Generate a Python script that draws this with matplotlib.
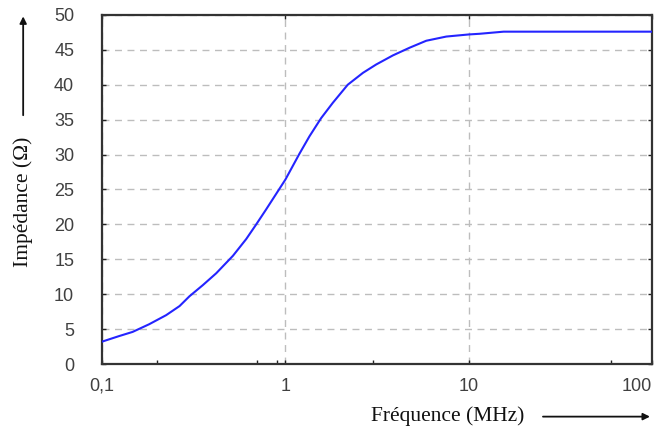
import matplotlib
matplotlib.use("Agg")
import matplotlib.pyplot as plt
from matplotlib.patches import FancyArrowPatch
from matplotlib.ticker import FixedLocator, NullFormatter

# Data
freq_mhz = [0.1, 0.124, 0.147, 0.181, 0.224, 0.265, 0.3, 0.355, 0.42, 0.518,
            0.612, 0.694, 0.784, 1.0, 1.193, 1.353, 1.566, 1.814, 2.19, 2.65,
            3.13, 3.86, 4.76, 5.87, 7.55, 10, 11.5, 15.5, 25, 50, 100]
impedance = [3.2, 4.0, 4.6, 5.7, 7.0, 8.3, 9.7, 11.3, 13.0, 15.5,
             17.9, 20.0, 22.1, 26.4, 30.1, 32.6, 35.2, 37.4, 40.0, 41.7,
             42.9, 44.2, 45.3, 46.3, 46.9, 47.2, 47.3, 47.6, 47.6, 47.6, 47.6]

x_ticks = [0.1, 1, 10, 100]
x_tick_labels = ["0,1", "1", "10", "100"]
x_minor = [0.2, 0.7, 0.9, 3, 60]
y_ticks = [0, 5, 10, 15, 20, 25, 30, 35, 40, 45, 50]

fig = plt.figure(figsize=(6.62, 4.26), dpi=100)
ax = fig.add_axes([0.154, 0.1455, 0.831, 0.8195])

ax.plot(freq_mhz, impedance, color="#2424ff", linewidth=1.5, zorder=3)
ax.set_xscale("log")
ax.set_xlim(0.1, 100)
ax.set_ylim(0, 50)

ax.xaxis.set_major_locator(FixedLocator(x_ticks))
ax.set_xticklabels(x_tick_labels)
ax.xaxis.set_minor_locator(FixedLocator(x_minor))
ax.xaxis.set_minor_formatter(NullFormatter())
ax.set_yticks(y_ticks)

tick_color = "#404040"
ax.tick_params(axis="x", which="major", direction="in", length=3, width=1,
               top=True, labelsize=13, labelcolor=tick_color, pad=10, color="#222222")
ax.tick_params(axis="x", which="minor", direction="in", length=3, width=1,
               top=False, color="#222222")
ax.tick_params(axis="y", which="major", direction="in", length=3, width=1,
               right=True, labelsize=13, labelcolor=tick_color, pad=20, color="#222222")
for lab in ax.get_xticklabels() + ax.get_yticklabels():
    lab.set_family("Liberation Sans")
ax.get_xticklabels()[-1].set_horizontalalignment("right")

ax.grid(True, which="major", linestyle=(0, (5, 4)), color="#bdbdbd", linewidth=1)
ax.grid(False, which="minor")
for s in ax.spines.values():
    s.set_color("#333333")
    s.set_linewidth(1.6)

# Axis labels with arrows
fig.text(0.035, 0.526, "Impédance (Ω)", rotation=90, ha="center", va="center",
         family="Liberation Serif", fontsize=15.5, color="#111111")
fig.text(0.677, 0.024, "Fréquence (MHz)", ha="center", va="center",
         family="Liberation Serif", fontsize=15.5, color="#111111")
fig.add_artist(FancyArrowPatch(
    (0.035, 0.723), (0.035, 0.968), transform=fig.transFigure,
    arrowstyle="-|>", mutation_scale=10, color="#111111", linewidth=1.3))
fig.add_artist(FancyArrowPatch(
    (0.816, 0.022), (0.986, 0.022), transform=fig.transFigure,
    arrowstyle="-|>", mutation_scale=10, color="#111111", linewidth=1.3))

fig.savefig("out.png", dpi=100)
